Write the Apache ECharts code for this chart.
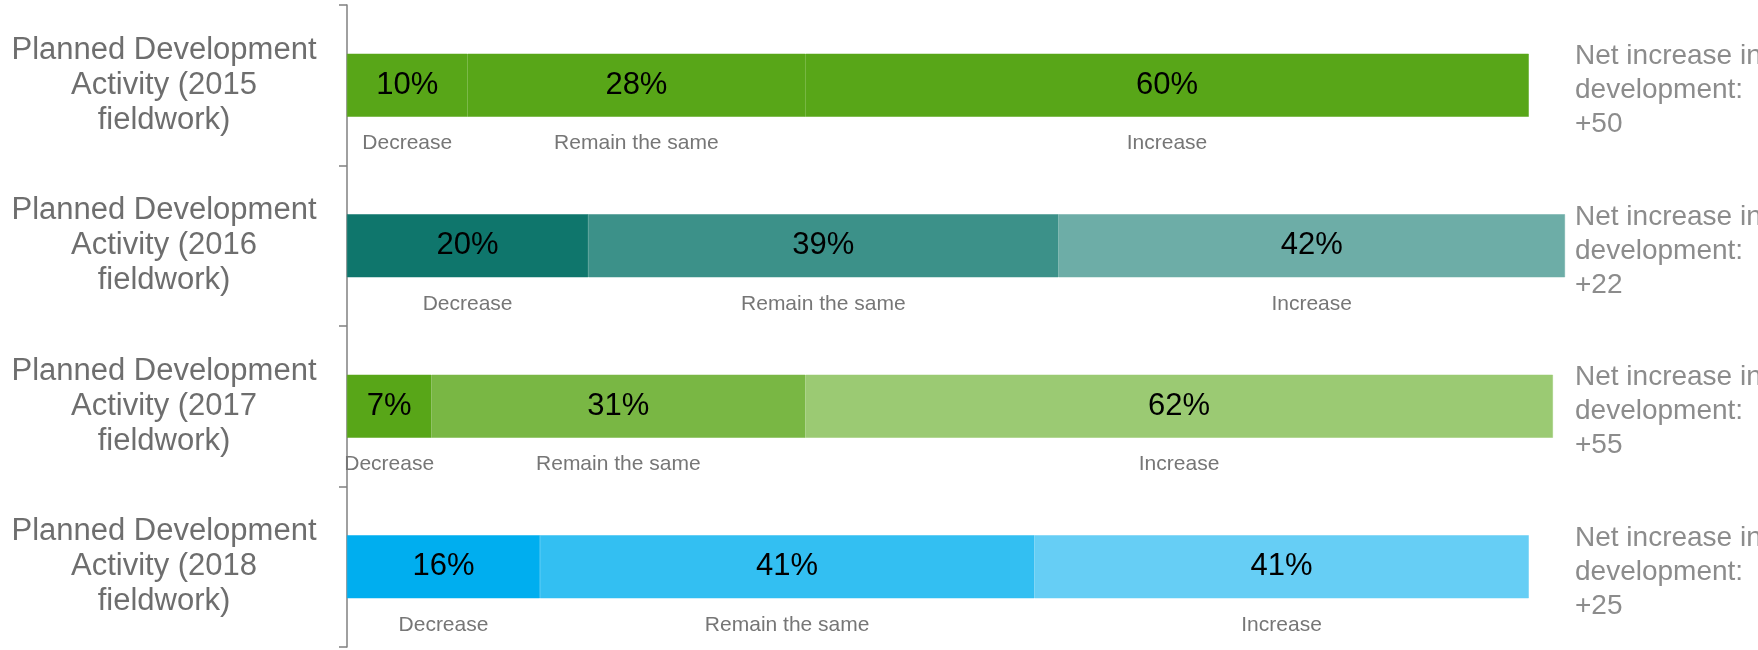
<!DOCTYPE html>
<html>
<head>
<meta charset="utf-8">
<script src="https://cdn.jsdelivr.net/npm/echarts@6/dist/echarts.min.js"></script>
<style>
  html, body { margin: 0; padding: 0; background: #ffffff; }
  #chart { width: 1758px; height: 650px; }
</style>
</head>
<body>
<div id="chart"></div>
<script>
// ---- data ----
const categories = [
  'Planned Development\nActivity (2015\nfieldwork)',
  'Planned Development\nActivity (2016\nfieldwork)',
  'Planned Development\nActivity (2017\nfieldwork)',
  'Planned Development\nActivity (2018\nfieldwork)'
];
const seriesNames = ['Decrease', 'Remain the same', 'Increase'];
const decreaseValues = [10, 20, 7, 16];
const remainValues = [28, 39, 31, 41];
const increaseValues = [60, 42, 62, 41];
const netIncrease = [50, 22, 55, 25];

// colours per row: [decrease, remain, increase]
const rowColors = [
  ['#58a618', '#58a618', '#58a618'],
  ['#0f766c', '#3c9189', '#6dada7'],
  ['#58a618', '#79b744', '#9bca73'],
  ['#00aeef', '#33bff2', '#66cef5']
];

const FONT = '"Liberation Sans", Arial, sans-serif';
const allValues = [decreaseValues, remainValues, increaseValues];

function makeSeries(k) {
  return {
    name: seriesNames[k],
    type: 'bar',
    stack: 'total',
    barWidth: 63,
    yAxisIndex: 0,
    data: allValues[k].map((v, i) => ({
      value: v,
      itemStyle: { color: rowColors[i][k], borderColor: rowColors[i][k], borderWidth: 0.5 }
    })),
    label: {
      show: true,
      position: 'inside',
      offset: [0, 29],
      color: '#000',
      textBorderWidth: 0,
      fontFamily: FONT,
      formatter: p => '{p|' + p.value + '%}\n{s|' + p.seriesName + '}',
      rich: {
        p: { fontSize: 31, color: '#000000', lineHeight: 58, fontFamily: FONT, textBorderWidth: 0 },
        s: { fontSize: 21, color: '#767676', lineHeight: 58, fontFamily: FONT, textBorderWidth: 0 }
      }
    }
  };
}

const chart = echarts.init(document.getElementById('chart'), null, { renderer: 'canvas' });
chart.setOption({
  animation: false,
  backgroundColor: '#ffffff',
  grid: { left: 347, right: 181, top: 5, bottom: 3, containLabel: false, outerBoundsMode: 'none' },
  xAxis: { type: 'value', min: 0, max: 102, show: false },
  yAxis: [
    {
      type: 'category',
      inverse: true,
      data: categories,
      axisLine: { show: true, lineStyle: { color: '#808080', width: 1.5 } },
      axisTick: { show: true, length: 8, lineStyle: { color: '#808080', width: 1.5 } },
      axisLabel: {
        align: 'center',
        margin: 183,
        fontSize: 31,
        lineHeight: 35,
        color: '#6e6e6e',
        fontFamily: FONT
      }
    },
    {
      type: 'category',
      inverse: true,
      position: 'right',
      data: categories,
      axisLine: { show: false },
      axisTick: { show: false },
      axisLabel: {
        align: 'left',
        margin: -2,
        fontSize: 28,
        lineHeight: 34,
        color: '#8c8c8c',
        fontFamily: FONT,
        formatter: (v, i) => '{g| }\n{r|Net increase in}\n{r|development:}\n{r|+' + netIncrease[i] + '}',
        rich: {
          g: { fontSize: 4, lineHeight: 11 },
          r: { fontSize: 28, lineHeight: 34, color: '#8c8c8c', fontFamily: FONT }
        }
      }
    }
  ],
  series: [makeSeries(0), makeSeries(1), makeSeries(2)]
});
</script>
</body>
</html>
